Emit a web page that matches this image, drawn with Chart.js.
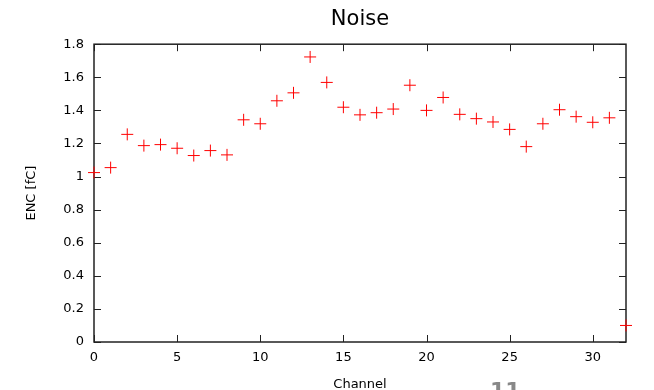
<!DOCTYPE html>
<html>
<head>
<meta charset="utf-8">
<script src="https://cdn.jsdelivr.net/npm/chart.js@4/dist/chart.umd.min.js"></script>
<style>
  html, body { margin: 0; padding: 0; background: #fff; overflow: hidden; }
  #wrap { position: relative; width: 654px; height: 390px; }
</style>
</head>
<body>
<div id="wrap"><canvas id="c" width="654" height="390"></canvas></div>
<script>
const channels = [0,1,2,3,4,5,6,7,8,9,10,11,12,13,14,15,16,17,18,19,20,21,22,23,24,25,26,27,28,29,30,31,32];
const encValues = [1.024,1.054,1.255,1.187,1.193,1.171,1.127,1.157,1.131,1.343,1.319,1.458,1.506,1.723,1.569,1.419,
                   1.373,1.386,1.408,1.552,1.400,1.478,1.376,1.350,1.330,1.285,1.181,1.319,1.404,1.362,1.328,1.355,0.100];
const xTicks = [0,5,10,15,20,25,30];
const yTicks = [0,0.2,0.4,0.6,0.8,1,1.2,1.4,1.6,1.8];
const titleText = 'Noise';
const xLabel = 'Channel';
const yLabel = 'ENC [fC]';
const pageNumber = '11';

const points = channels.map((c, i) => ({ x: c, y: encValues[i] }));
const FONT = "'DejaVu Sans', sans-serif";

const framePlugin = {
  id: 'frame',
  beforeDatasetsDraw(chart) {
    const { ctx, chartArea: a, scales: { x, y } } = chart;
    ctx.save();
    ctx.strokeStyle = '#222';
    ctx.lineWidth = 1;
    const tl = 7;
    ctx.beginPath();
    x.ticks.forEach(t => {
      const px = Math.round(x.getPixelForValue(t.value)) + 0.5;
      ctx.moveTo(px, a.bottom); ctx.lineTo(px, a.bottom - tl);
      ctx.moveTo(px, a.top); ctx.lineTo(px, a.top + tl);
    });
    y.ticks.forEach(t => {
      const py = Math.round(y.getPixelForValue(t.value)) + 0.5;
      ctx.moveTo(a.left, py); ctx.lineTo(a.left + tl, py);
      ctx.moveTo(a.right, py); ctx.lineTo(a.right - tl, py);
    });
    ctx.stroke();
    ctx.lineWidth = 1.5;
    ctx.strokeRect(a.left, a.top, a.right - a.left, a.bottom - a.top);
    ctx.restore();
  },
  afterDraw(chart) {
    const ctx = chart.ctx;
    ctx.save();
    ctx.fillStyle = '#888';
    ctx.font = "bold 22px " + FONT;
    ctx.textBaseline = 'alphabetic';
    ctx.fillText(pageNumber, 490, 398);
    ctx.restore();
  }
};

new Chart(document.getElementById('c'), {
  type: 'scatter',
  data: {
    datasets: [{
      data: points,
      pointStyle: 'cross',
      pointRadius: 6,
      pointHoverRadius: 6,
      borderColor: '#ff0000',
      backgroundColor: '#ff0000',
      pointBorderWidth: 1,
      borderWidth: 1,
      clip: false
    }]
  },
  options: {
    responsive: false,
    animation: false,
    events: [],
    layout: { padding: { left: 0, right: 28, top: 0, bottom: 0 } },
    plugins: {
      legend: { display: false },
      tooltip: { enabled: false },
      title: {
        display: true,
        text: titleText,
        fullSize: false,
        color: '#000',
        font: { family: FONT, size: 21, weight: 'normal' },
        padding: { top: 7, bottom: 12 }
      }
    },
    scales: {
      x: {
        type: 'linear',
        min: 0, max: 32,
        afterBuildTicks(s) { s.ticks = xTicks.map(v => ({ value: v })); },
        afterFit(s) { s.height = 48; },
        grid: { display: false, drawTicks: false },
        border: { display: false },
        ticks: { color: '#000', font: { family: FONT, size: 13 }, padding: 8, maxRotation: 0 },
        title: { display: true, text: xLabel, color: '#000', font: { family: FONT, size: 13 }, padding: { top: 0, bottom: -2 } }
      },
      y: {
        type: 'linear',
        min: 0, max: 1.8,
        afterBuildTicks(s) { s.ticks = yTicks.map(v => ({ value: v })); },
        afterFit(s) { s.width = 94; },
        grid: { display: false, drawTicks: false },
        border: { display: false },
        ticks: { color: '#000', font: { family: FONT, size: 13 }, padding: 10,
                 callback: v => String(+v.toFixed(1)) },
        title: { display: true, text: yLabel, color: '#000', font: { family: FONT, size: 13 }, padding: { top: 24, bottom: 0 } }
      }
    }
  },
  plugins: [framePlugin]
});
</script>
</body>
</html>
